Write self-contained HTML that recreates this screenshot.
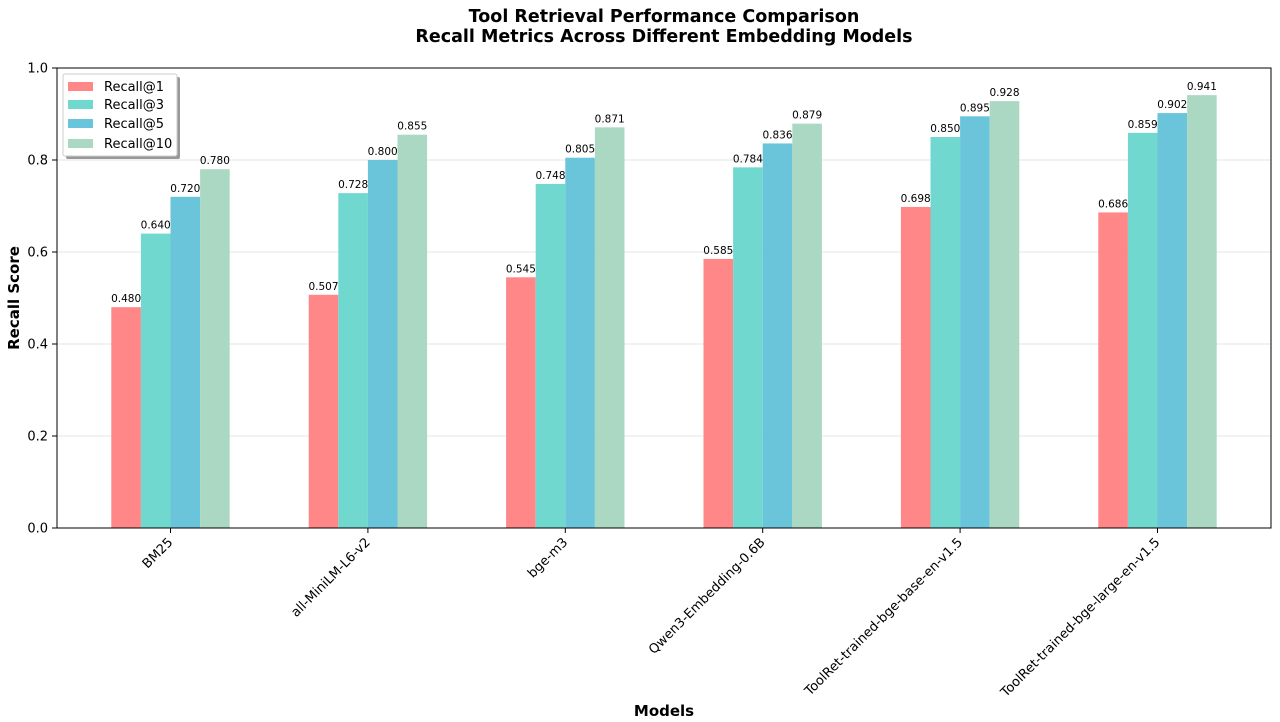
<!DOCTYPE html>
<html><head><meta charset="utf-8"><style>
html,body{margin:0;padding:0;background:#fff;}
svg{display:block;font-family:"DejaVu Sans","Liberation Sans",sans-serif;}
</style></head><body>
<svg id="c" width="1280" height="722" xmlns="http://www.w3.org/2000/svg">
<rect width="1280" height="722" fill="#fff"/>
<text x="664" y="22" text-anchor="middle" font-size="17.5" font-weight="bold">Tool Retrieval Performance Comparison</text>
<text x="664" y="42" text-anchor="middle" font-size="17.5" font-weight="bold">Recall Metrics Across Different Embedding Models</text>
<g id="grid"></g>
<g id="bars"></g>
<rect x="57" y="68" width="1214" height="460" fill="none" stroke="#000" stroke-width="1"/>
<g id="ticks" font-size="13"></g>
<text transform="translate(19,298) rotate(-90)" text-anchor="middle" font-size="15" font-weight="bold">Recall Score</text>
<text x="664" y="716" text-anchor="middle" font-size="15" font-weight="bold">Models</text>
<g>
<rect x="66" y="77" width="114" height="82" rx="2" fill="#999"/>
<rect x="63" y="74" width="114" height="82" rx="2" fill="#fff" stroke="#ccc"/>
<rect x="68" y="82" width="25" height="9" fill="#ff8787"/>
<rect x="68" y="100" width="25" height="9" fill="#71d8d0"/>
<rect x="68" y="119" width="25" height="9" fill="#6ac5da"/>
<rect x="68" y="139" width="25" height="9" fill="#abd8c3"/>
<text x="104" y="91" font-size="13">Recall@1</text>
<text x="104" y="109" font-size="13">Recall@3</text>
<text x="104" y="128" font-size="13">Recall@5</text>
<text x="104" y="148" font-size="13">Recall@10</text>
</g>
</svg>
<script>
const ns="http://www.w3.org/2000/svg";
function el(p,t,a,txt){const e=document.createElementNS(ns,t);for(const k in a)e.setAttribute(k,a[k]);if(txt!==undefined)e.textContent=txt;document.getElementById(p).appendChild(e);return e;}
const Y=v=>528-460*v;
for(let i=0;i<=5;i++){const v=i*0.2,y=Y(v);
 if(i>0&&i<5)el("grid","line",{x1:57,x2:1271,y1:y,y2:y,stroke:"#e6e6e6","stroke-width":1});
 el("ticks","line",{x1:52,x2:57,y1:y,y2:y,stroke:"#000"});
 el("ticks","text",{x:48,y:y+4.5,"text-anchor":"end"},v.toFixed(1));}
const names=["BM25","all-MiniLM-L6-v2","bge-m3","Qwen3-Embedding-0.6B","ToolRet-trained-bge-base-en-v1.5","ToolRet-trained-bge-large-en-v1.5"];
const data=[[.480,.640,.720,.780],[.507,.728,.800,.855],[.545,.748,.805,.871],[.585,.784,.836,.879],[.698,.850,.895,.928],[.686,.859,.902,.941]];
const cols=["#ff8787","#71d8d0","#6ac5da","#abd8c3"];
const w=29.6;
names.forEach((n,g)=>{const c=170.5+g*197.4;
 data[g].forEach((v,k)=>{const x=c-2*w+k*w;
  el("bars","rect",{x:x,y:Y(v),width:w,height:460*v,fill:cols[k]});
  el("bars","text",{x:x+w/2,y:Y(v)-5,"text-anchor":"middle","font-size":"10.5"},v.toFixed(3));});
 el("ticks","line",{x1:c,x2:c,y1:528,y2:533,stroke:"#000"});
 el("ticks","text",{x:c+3,y:543,"text-anchor":"end",transform:`rotate(-45 ${c+3} 543)`},n);
});
</script>
</body></html>
